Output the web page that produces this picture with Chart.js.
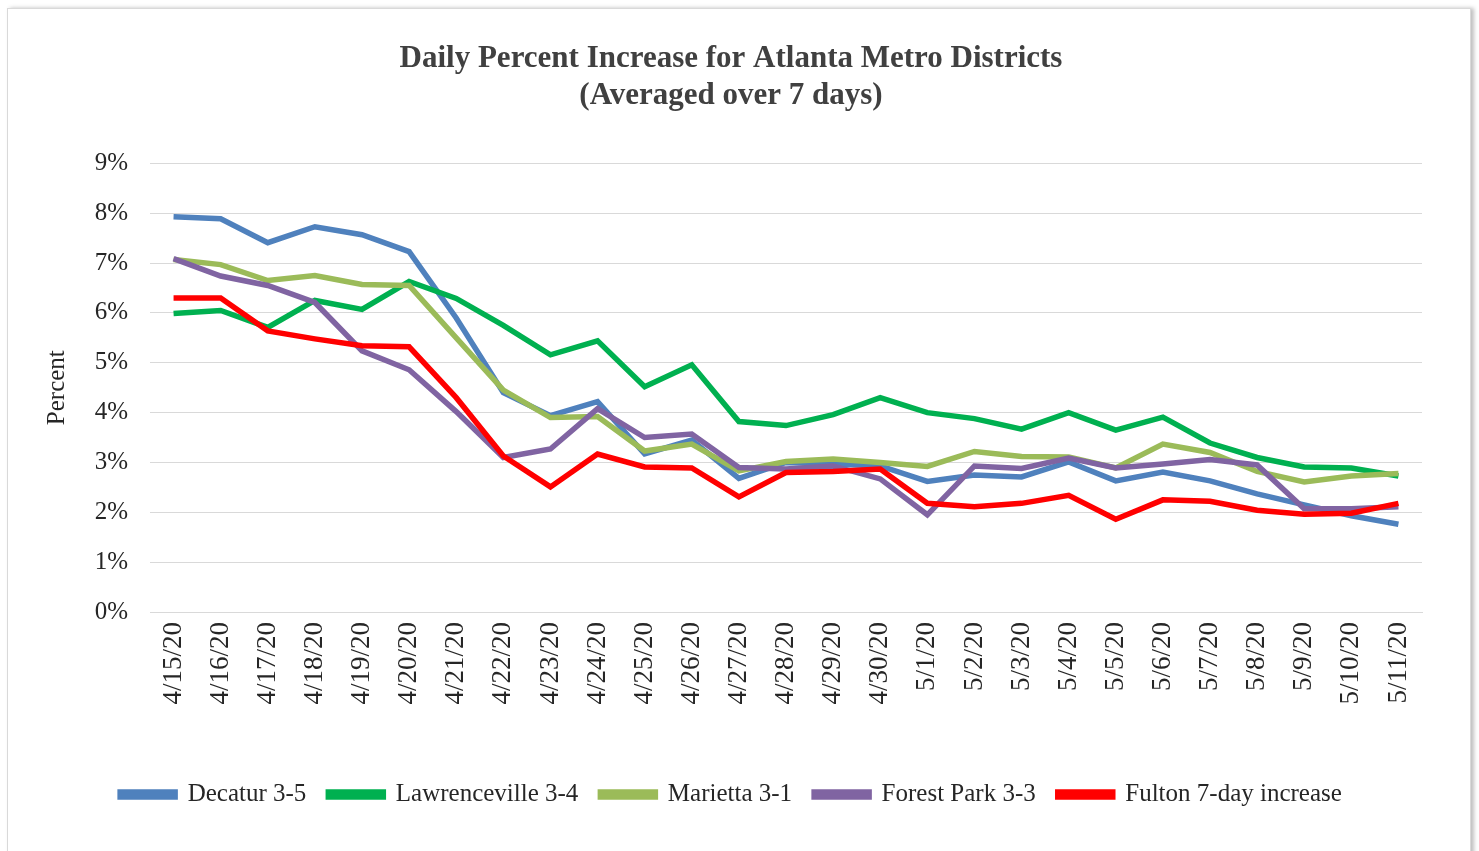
<!DOCTYPE html>
<html>
<head>
<meta charset="utf-8">
<script src="https://cdn.jsdelivr.net/npm/chart.js@4.4.1/dist/chart.umd.min.js"></script>
<style>
  html, body { margin: 0; padding: 0; background: #fff; }
  #frame {
    position: absolute; left: 7px; top: 8px; width: 1462px; height: 860px;
    border: 1px solid #d9d9d9; box-shadow: 3px 0 4px rgba(0,0,0,0.25);
    background: #fff;
  }
  #wrap { position: absolute; left: 0; top: 0; width: 1479px; height: 851px; }
</style>
</head>
<body>
<div id="frame"></div>
<div id="wrap"><canvas id="chart" width="1479" height="851"></canvas></div>
<script>
// Dates on the x axis
const dates = ["4/15/20", "4/16/20", "4/17/20", "4/18/20", "4/19/20", "4/20/20", "4/21/20",
  "4/22/20", "4/23/20", "4/24/20", "4/25/20", "4/26/20", "4/27/20", "4/28/20", "4/29/20",
  "4/30/20", "5/1/20", "5/2/20", "5/3/20", "5/4/20", "5/5/20", "5/6/20", "5/7/20", "5/8/20",
  "5/9/20", "5/10/20", "5/11/20"];

// Percent values
const decatur = [7.93, 7.89, 7.41, 7.73, 7.57, 7.23, 5.9, 4.40, 3.94, 4.22, 3.17, 3.45, 2.68,
  3.0, 2.97, 2.93, 2.62, 2.75, 2.71, 3.01, 2.63, 2.81, 2.63, 2.37, 2.15, 1.93, 1.76];
const lawrenceville = [5.99, 6.05, 5.71, 6.25, 6.07, 6.63, 6.29, 5.75, 5.16, 5.44, 4.52, 4.96, 3.82,
  3.74, 3.96, 4.30, 4.00, 3.88, 3.67, 4.00, 3.65, 3.91, 3.39, 3.10, 2.91, 2.89, 2.73];
const marietta = [7.07, 6.97, 6.65, 6.75, 6.57, 6.55, 5.5, 4.45, 3.90, 3.92, 3.23, 3.37, 2.83,
  3.02, 3.07, 3.0, 2.92, 3.22, 3.12, 3.11, 2.89, 3.37, 3.2, 2.82, 2.61, 2.73, 2.78];
const forestPark = [7.09, 6.74, 6.55, 6.21, 5.24, 4.86, 4.02, 3.10, 3.27, 4.08, 3.50, 3.57, 2.90,
  2.87, 2.93, 2.67, 1.95, 2.93, 2.88, 3.09, 2.89, 2.97, 3.06, 2.95, 2.07, 2.07, 2.11];
const fulton = [6.30, 6.30, 5.64, 5.48, 5.34, 5.32, 4.3, 3.13, 2.51, 3.17, 2.91, 2.89, 2.31,
  2.80, 2.82, 2.87, 2.18, 2.11, 2.18, 2.34, 1.86, 2.25, 2.22, 2.04, 1.96, 1.98, 2.18];

const seriesNames = ["Decatur 3-5", "Lawrenceville 3-4", "Marietta 3-1", "Forest Park 3-3", "Fulton 7-day increase"];
const seriesColors = ["#4F81BD", "#00B050", "#9BBB59", "#8064A2", "#FF0000"];
const seriesValues = [decatur, lawrenceville, marietta, forestPark, fulton];

const serif = "'Liberation Serif', 'DejaVu Serif', serif";

const datasets = seriesValues.map(function (vals, i) {
  return {
    label: seriesNames[i],
    data: vals,
    borderColor: seriesColors[i],
    backgroundColor: seriesColors[i],
    borderWidth: 5.5,
    pointRadius: 0,
    tension: 0,
    // later series drawn on top, like the original
    order: seriesValues.length - i,
  };
});

const ctx = document.getElementById("chart").getContext("2d");
new Chart(ctx, {
  type: "line",
  data: { labels: dates, datasets: datasets },
  options: {
    responsive: false,
    animation: false,
    layout: { padding: { left: 40, right: 57, top: 32, bottom: 34 } },
    plugins: {
      title: {
        display: true,
        text: ["Daily Percent Increase for Atlanta Metro Districts", "(Averaged over 7 days)"],
        color: "#404040",
        font: { family: serif, size: 31, weight: "bold", lineHeight: 1.2 },
        padding: { top: 8, bottom: 49 },
      },
      legend: {
        position: "bottom",
        labels: {
          color: "#262626",
          font: { family: serif, size: 25 },
          boxWidth: 55,
          boxHeight: 5,
          padding: 22,
          sort: function (a, b) { return a.datasetIndex - b.datasetIndex; },
        },
      },
      tooltip: { enabled: false },
    },
    scales: {
      x: {
        offset: true,
        grid: { display: false, drawTicks: false },
        border: { display: true, color: "#d9d9d9" },
        ticks: {
          color: "#262626",
          font: { family: serif, size: 27 },
          maxRotation: 90,
          minRotation: 90,
          padding: 10,
          autoSkip: false,
        },
        afterFit: function (scale) { scale.height = 148; },
      },
      y: {
        min: 0,
        max: 9,
        ticks: {
          stepSize: 1,
          color: "#262626",
          font: { family: serif, size: 25 },
          padding: 22,
          callback: function (v) { return v + "%"; },
        },
        grid: { color: "#d9d9d9", drawTicks: false },
        border: { display: false },
        title: {
          display: true,
          text: "Percent",
          color: "#262626",
          font: { family: serif, size: 25 },
          padding: { top: 2, bottom: 0 },
        },
        afterFit: function (scale) { scale.width = 110; },
      },
    },
  },
});
</script>
</body>
</html>
